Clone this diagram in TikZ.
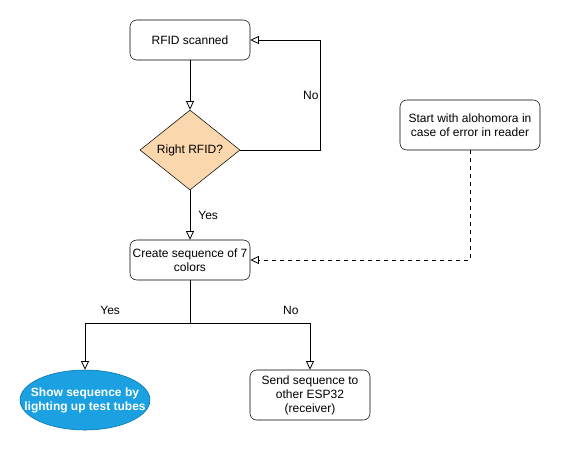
\documentclass[tikz,border=0pt]{standalone}
\usepackage{fontspec}
\setmainfont{Liberation Sans}
\usetikzlibrary{shapes.geometric,arrows.meta}
\definecolor{decfill}{HTML}{FAD7AC}
\definecolor{showfill}{HTML}{1BA1E2}
\definecolor{showline}{HTML}{006EAF}
\begin{document}
\begin{tikzpicture}[
    x=0.75pt, y=-0.75pt,
    font=\fontsize{9}{10.5}\selectfont,
    stepbox/.style={rectangle, draw, align=center, minimum width=90pt, minimum height=30pt, rounded corners=5pt, inner sep=1pt},
    decbox/.style={diamond, draw, fill=decfill, minimum width=75pt, minimum height=60pt, inner sep=0pt},
    showbox/.style={ellipse, draw=showline, fill=showfill, text=white, font=\fontsize{9}{10.5}\selectfont\bfseries, align=center, minimum width=97.5pt, minimum height=45pt, inner xsep=-11.5pt, inner ysep=0pt},
    arrow/.style={-{Triangle[open, length=6.5pt, width=6pt]}, line width=0.6pt},
    lbl/.style={inner sep=1pt}
]
    \useasboundingbox (0,0) rectangle (561,451);
    \node[stepbox] (scan) at (190,40) {RFID scanned};
    \node[decbox] (check) at (190,150) {Right RFID?};
    \node[stepbox] (create) at (190,260) {Create sequence of 7\\colors};
    \node[stepbox, minimum width=105pt, minimum height=37.5pt] (backup) at (470,125) {Start with alohomora in\\case of error in reader};
    \node[showbox] (show) at (85,400) {Show sequence by\\lighting up test tubes};
    \node[stepbox, minimum height=37.5pt] (send) at (310,395) {Send sequence to\\other ESP32\\(receiver)};
    \coordinate (split) at (190,323);

    \draw[arrow] (scan) -- (check);
    \draw[arrow] (check.east) -- ++(80,0) |- (scan.east) node[lbl, pos=0.25, left] {No};
    \draw[arrow] (check) -- (create) node[lbl, midway, right=5pt] {Yes};
    \draw[arrow, dashed] (backup.south) |- (create.east);
    \draw[line width=0.6pt] (create.south) -- (split);
    \draw[arrow] (split) -| (show.north) node[lbl, pos=0.38, above=5pt] {Yes};
    \draw[arrow] (split) -| (send.north) node[lbl, pos=0.42, above=5pt] {No};
\end{tikzpicture}
\end{document}
